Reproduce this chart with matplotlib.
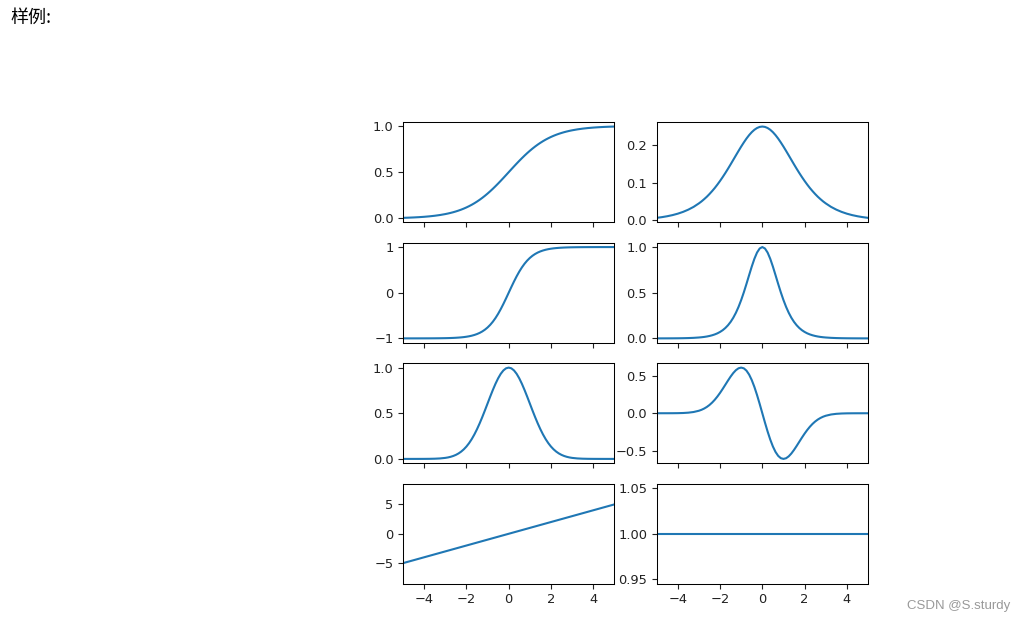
import matplotlib
matplotlib.use('Agg')
import matplotlib.pyplot as plt

plt.rcParams['font.family'] = ['DejaVu Sans']

# x samples read along the horizontal axis (denser in the middle where curves bend)
x = [-5.0, -4.75, -4.5, -4.25, -4.0, -3.75, -3.5, -3.25,
     -3.0, -2.875, -2.75, -2.625, -2.5, -2.375, -2.25, -2.125,
     -2.0, -1.875, -1.75, -1.625, -1.5, -1.375, -1.25, -1.125,
     -1.0, -0.875, -0.75, -0.625, -0.5, -0.375, -0.25, -0.125,
     0.0,
     0.125, 0.25, 0.375, 0.5, 0.625, 0.75, 0.875, 1.0,
     1.125, 1.25, 1.375, 1.5, 1.625, 1.75, 1.875, 2.0,
     2.125, 2.25, 2.375, 2.5, 2.625, 2.75, 2.875, 3.0,
     3.25, 3.5, 3.75, 4.0, 4.25, 4.5, 4.75, 5.0]

sigmoid = [0.0067, 0.0086, 0.0110, 0.0141, 0.0180, 0.0230, 0.0293, 0.0373,
           0.0474, 0.0534, 0.0601, 0.0675, 0.0759, 0.0851, 0.0953, 0.1067,
           0.1192, 0.1330, 0.1480, 0.1645, 0.1824, 0.2018, 0.2227, 0.2451,
           0.2689, 0.2942, 0.3208, 0.3487, 0.3775, 0.4073, 0.4378, 0.4688,
           0.5000,
           0.5312, 0.5622, 0.5927, 0.6225, 0.6513, 0.6792, 0.7058, 0.7311,
           0.7549, 0.7773, 0.7982, 0.8176, 0.8355, 0.8520, 0.8670, 0.8808,
           0.8933, 0.9047, 0.9149, 0.9241, 0.9325, 0.9399, 0.9466, 0.9526,
           0.9627, 0.9707, 0.9770, 0.9820, 0.9859, 0.9890, 0.9914, 0.9933]

sigmoid_d = [0.0066, 0.0085, 0.0109, 0.0139, 0.0177, 0.0225, 0.0285, 0.0359,
             0.0452, 0.0505, 0.0565, 0.0629, 0.0701, 0.0779, 0.0862, 0.0953,
             0.1050, 0.1153, 0.1261, 0.1374, 0.1491, 0.1611, 0.1731, 0.1850,
             0.1966, 0.2076, 0.2179, 0.2271, 0.2350, 0.2414, 0.2461, 0.2490,
             0.2500,
             0.2490, 0.2461, 0.2414, 0.2350, 0.2271, 0.2179, 0.2076, 0.1966,
             0.1850, 0.1731, 0.1611, 0.1491, 0.1374, 0.1261, 0.1153, 0.1050,
             0.0953, 0.0862, 0.0779, 0.0701, 0.0629, 0.0565, 0.0505, 0.0452,
             0.0359, 0.0285, 0.0225, 0.0177, 0.0139, 0.0109, 0.0085, 0.0066]

tanh = [-0.9999, -0.9998, -0.9998, -0.9996, -0.9993, -0.9989, -0.9982, -0.9970,
        -0.9951, -0.9937, -0.9919, -0.9896, -0.9866, -0.9828, -0.9780, -0.9719,
        -0.9640, -0.9541, -0.9414, -0.9253, -0.9051, -0.8799, -0.8483, -0.8093,
        -0.7616, -0.7039, -0.6351, -0.5546, -0.4621, -0.3583, -0.2449, -0.1244,
        0.0,
        0.1244, 0.2449, 0.3583, 0.4621, 0.5546, 0.6351, 0.7039, 0.7616,
        0.8093, 0.8483, 0.8799, 0.9051, 0.9253, 0.9414, 0.9541, 0.9640,
        0.9719, 0.9780, 0.9828, 0.9866, 0.9896, 0.9919, 0.9937, 0.9951,
        0.9970, 0.9982, 0.9989, 0.9993, 0.9996, 0.9998, 0.9998, 0.9999]

tanh_d = [0.0002, 0.0003, 0.0005, 0.0008, 0.0013, 0.0022, 0.0036, 0.0060,
          0.0099, 0.0126, 0.0161, 0.0207, 0.0266, 0.0341, 0.0435, 0.0554,
          0.0707, 0.0897, 0.1138, 0.1438, 0.1807, 0.2258, 0.2804, 0.3450,
          0.4200, 0.5045, 0.5966, 0.6924, 0.7864, 0.8716, 0.9400, 0.9845,
          1.0000,
          0.9845, 0.9400, 0.8716, 0.7864, 0.6924, 0.5966, 0.5045, 0.4200,
          0.3450, 0.2804, 0.2258, 0.1807, 0.1438, 0.1138, 0.0897, 0.0707,
          0.0554, 0.0435, 0.0341, 0.0266, 0.0207, 0.0161, 0.0126, 0.0099,
          0.0060, 0.0036, 0.0022, 0.0013, 0.0008, 0.0005, 0.0003, 0.0002]

gauss = [0.0, 0.0, 0.0, 0.0001, 0.0003, 0.0009, 0.0022, 0.0051,
         0.0111, 0.0160, 0.0228, 0.0319, 0.0439, 0.0596, 0.0796, 0.1046,
         0.1353, 0.1724, 0.2163, 0.2671, 0.3247, 0.3886, 0.4578, 0.5311,
         0.6065, 0.6820, 0.7548, 0.8226, 0.8825, 0.9321, 0.9692, 0.9922,
         1.0000,
         0.9922, 0.9692, 0.9321, 0.8825, 0.8226, 0.7548, 0.6820, 0.6065,
         0.5311, 0.4578, 0.3886, 0.3247, 0.2671, 0.2163, 0.1724, 0.1353,
         0.1046, 0.0796, 0.0596, 0.0439, 0.0319, 0.0228, 0.0160, 0.0111,
         0.0051, 0.0022, 0.0009, 0.0003, 0.0001, 0.0, 0.0, 0.0]

gauss_d = [0.0, 0.0001, 0.0002, 0.0005, 0.0013, 0.0033, 0.0077, 0.0166,
           0.0333, 0.0460, 0.0627, 0.0837, 0.1098, 0.1416, 0.1791, 0.2223,
           0.2707, 0.3233, 0.3785, 0.4340, 0.4870, 0.5343, 0.5723, 0.5975,
           0.6065, 0.5968, 0.5661, 0.5141, 0.4412, 0.3495, 0.2423, 0.1240,
           0.0,
           -0.1240, -0.2423, -0.3495, -0.4412, -0.5141, -0.5661, -0.5968, -0.6065,
           -0.5975, -0.5723, -0.5343, -0.4870, -0.4340, -0.3785, -0.3233, -0.2707,
           -0.2223, -0.1791, -0.1416, -0.1098, -0.0837, -0.0627, -0.0460, -0.0333,
           -0.0166, -0.0077, -0.0033, -0.0013, -0.0005, -0.0002, -0.0001, 0.0]

x_lin = [-5, 5]
linear = [-5, 5]
linear_d = [1, 1]

fs = 9.4
plt.rcParams['xtick.labelsize'] = fs
plt.rcParams['ytick.labelsize'] = fs
plt.rcParams['xtick.major.size'] = 3.3
plt.rcParams['ytick.major.size'] = 3.3
plt.rcParams['axes.linewidth'] = 0.75

fig, axes = plt.subplots(4, 2, sharex=True, figsize=(10.26, 6.22), dpi=100)
fig.subplots_adjust(left=0.3928, right=0.846, top=0.8039, bottom=0.0611, wspace=0.2, hspace=0.2)

c = '#1f77b4'
axes[0, 0].plot(x, sigmoid, color=c, lw=1.5)
axes[0, 1].plot(x, sigmoid_d, color=c, lw=1.5)
axes[1, 0].plot(x, tanh, color=c, lw=1.5)
axes[1, 1].plot(x, tanh_d, color=c, lw=1.5)
axes[2, 0].plot(x, gauss, color=c, lw=1.5)
axes[2, 1].plot(x, gauss_d, color=c, lw=1.5)
axes[3, 0].plot(x_lin, linear, color=c, lw=1.5)
axes[3, 1].plot(x_lin, linear_d, color=c, lw=1.5)

axes[0, 0].set_xlim(-5, 5)
axes[0, 0].set_xticks([-4, -2, 0, 2, 4])
axes[3, 0].set_ylim(-8.55, 8.55)
axes[3, 0].set_yticks([-5, 0, 5])

for ax in axes.flat:
    ax.tick_params(colors='#222222', labelcolor='#222222')

fig.text(10 / 1026, 1 - 9 / 622, '样例:', fontsize=13, va='top', ha='left',
         family=['Noto Sans CJK SC', 'DejaVu Sans'])
fig.text(1010 / 1026, 1 - 606 / 622, 'CSDN @S.sturdy', fontsize=9.5, color='#999999',
         ha='right', va='center', family=['Liberation Sans', 'DejaVu Sans'])

fig.savefig('out.png', dpi=100)
